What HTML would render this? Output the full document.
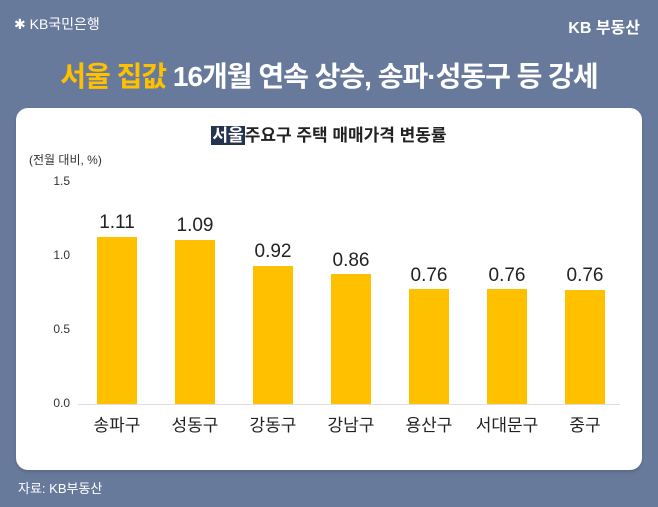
<!DOCTYPE html>
<html><head><meta charset="utf-8"><style>
*{margin:0;padding:0;box-sizing:border-box}
body{width:658px;height:507px;background:#687a9c;font-family:"Liberation Sans","Noto Sans CJK KR",sans-serif;position:relative;overflow:hidden}
.abs{position:absolute;white-space:nowrap}
.card{position:absolute;left:16px;top:108px;width:626px;height:362px;background:#fff;border-radius:12px;box-shadow:0 2px 3px rgba(0,0,0,.15)}
.bar{position:absolute;width:40px;background:#ffc000}
.val{position:absolute;width:80px;text-align:center;font-size:19px;color:#222}
.cat{position:absolute;width:90px;text-align:center;font-size:17px;color:#222;top:411px}
.yt{position:absolute;left:40px;font-size:12px;color:#333;width:30px;text-align:right}
</style></head><body>
<div class="abs" style="left:14px;top:14px;color:#fff;font-size:14px">✱ KB국민은행</div>
<div class="abs" style="right:18px;top:14px;color:#fff;font-size:16px;font-weight:bold">KB 부동산</div>
<div class="abs" style="left:0;width:658px;text-align:center;top:55px;font-size:28px;font-weight:bold;color:#fff;letter-spacing:-1px"><span style="color:#ffc000">서울 집값</span> 16개월 연속 상승, 송파·성동구 등 강세</div>
<div class="card"></div>
<div class="abs" style="left:0;width:658px;text-align:center;top:121px;font-size:17px;font-weight:bold;color:#222"><span style="background:#24334f;color:#fff;padding:0 1px">서울</span>주요구 주택 매매가격 변동률</div>
<div class="abs" style="left:29px;top:151px;font-size:12px;color:#333">(전월 대비, %)</div>
<div class="yt" style="top:174px">1.5</div>
<div class="yt" style="top:248px">1.0</div>
<div class="yt" style="top:322px">0.5</div>
<div class="yt" style="top:396px">0.0</div>
<div class="abs" style="left:78px;top:404px;width:542px;height:1px;background:#ddd"></div>
<div class="bar" style="left:97px;top:237px;height:167px"></div>
<div class="bar" style="left:175px;top:240px;height:164px"></div>
<div class="bar" style="left:253px;top:266px;height:138px"></div>
<div class="bar" style="left:331px;top:274px;height:130px"></div>
<div class="bar" style="left:409px;top:289px;height:115px"></div>
<div class="bar" style="left:487px;top:289px;height:115px"></div>
<div class="bar" style="left:565px;top:290px;height:114px"></div>
<div class="val" style="left:77px;top:212px">1.11</div>
<div class="val" style="left:155px;top:215px">1.09</div>
<div class="val" style="left:233px;top:241px">0.92</div>
<div class="val" style="left:311px;top:250px">0.86</div>
<div class="val" style="left:389px;top:265px">0.76</div>
<div class="val" style="left:467px;top:265px">0.76</div>
<div class="val" style="left:545px;top:265px">0.76</div>
<div class="cat" style="left:72px">송파구</div>
<div class="cat" style="left:150px">성동구</div>
<div class="cat" style="left:228px">강동구</div>
<div class="cat" style="left:306px">강남구</div>
<div class="cat" style="left:384px">용산구</div>
<div class="cat" style="left:462px">서대문구</div>
<div class="cat" style="left:540px">중구</div>
<div class="abs" style="left:18px;top:478px;font-size:13px;color:#fff">자료: KB부동산</div>
</body></html>
